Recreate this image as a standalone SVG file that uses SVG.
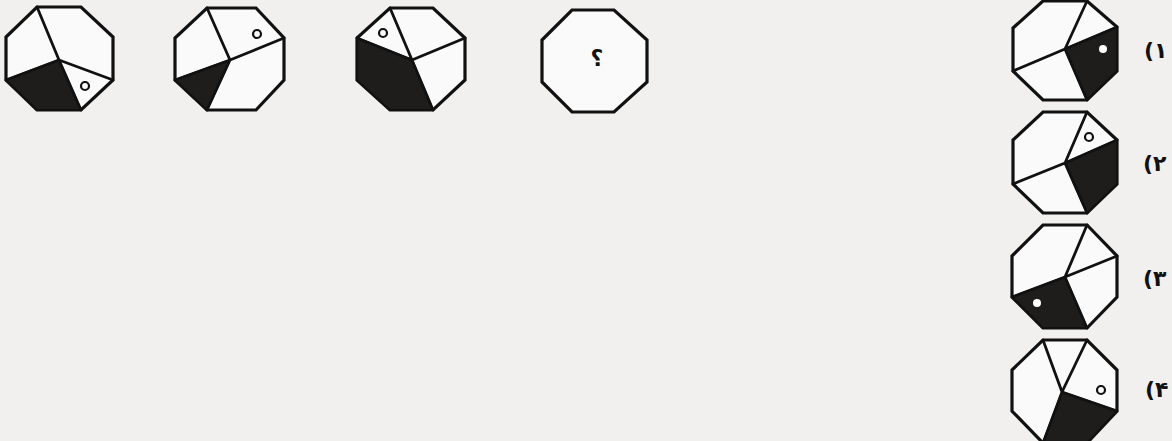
<svg xmlns="http://www.w3.org/2000/svg" width="1172" height="441" viewBox="0 0 1172 441">
<style>
.oct{fill:#fbfafa;stroke:#111;stroke-width:3.2;stroke-linejoin:miter}
.ln{fill:none;stroke:#111;stroke-width:2.8;stroke-linecap:round}
.dk{fill:#1e1d1b;stroke:#111;stroke-width:2;stroke-linejoin:round}
.ho{fill:#fbfafa;stroke:#111;stroke-width:2.2}
.wd{fill:#fff;stroke:none}
.lbl{font-family:"DejaVu Sans",sans-serif;font-size:22px;font-weight:bold;fill:#111;unicode-bidi:bidi-override;direction:ltr}
</style>
<rect width="1172" height="441" fill="#f2f0ef"/>
<g id="fig1">
<polygon class="oct" points="37,7 81,7 113,37 113,80 81,110 37,110 6,80 6,37"/>
<polygon class="dk" points="59,60 6,80 37,110 81,110"/>
<path class="ln" d="M59,60 L37,7 M59,60 L6,80 M59,60 L113,80 M59,60 L81,110"/>
<circle class="ho" cx="85" cy="86" r="4"/>
</g>
<g id="fig2">
<polygon class="oct" points="207,8 256,8 284,38 284,80 256,110 207,110 175,80 175,38"/>
<polygon class="dk" points="230,60 175,80 207,110"/>
<path class="ln" d="M230,60 L207,8 M230,60 L284,38 M230,60 L175,80 M230,60 L207,110"/>
<circle class="ho" cx="257" cy="34" r="4"/>
</g>
<g id="fig3">
<polygon class="oct" points="390,8 433,8 465,38 465,80 433,110 390,110 357,80 357,38"/>
<polygon class="dk" points="412,60 357,38 357,80 390,110 433,110"/>
<path class="ln" d="M412,60 L390,8 M412,60 L357,38 M412,60 L465,38 M412,60 L433,110"/>
<circle class="ho" cx="383" cy="33" r="4"/>
</g>
<g id="fig4">
<polygon class="oct" points="572,10 614,10 647,40 647,82 614,112 572,112 542,82 542,40"/>
<text class="lbl" x="597" y="66" text-anchor="middle" font-size="26">؟</text>
</g>
<g id="opt1">
<polygon class="oct" points="1043,1 1087,1 1117,27 1117,71 1087,100 1043,100 1013,71 1013,28"/>
<polygon class="dk" points="1065,49 1117,27 1117,71 1087,100"/>
<path class="ln" d="M1065,49 L1087,1 M1065,49 L1117,27 M1065,49 L1013,71 M1065,49 L1087,100"/>
<circle class="wd" cx="1103" cy="49" r="4"/>
<text class="lbl" x="1144" y="58">(۱</text>
</g>
<g id="opt2">
<polygon class="oct" points="1043,112 1087,112 1117,140 1117,184 1087,213 1043,213 1013,184 1013,140"/>
<polygon class="dk" points="1065,163 1117,140 1117,184 1087,213"/>
<path class="ln" d="M1065,163 L1087,112 M1065,163 L1117,140 M1065,163 L1013,184 M1065,163 L1087,213"/>
<circle class="ho" cx="1089" cy="137" r="4"/>
<text class="lbl" x="1143" y="171">(۲</text>
</g>
<g id="opt3">
<polygon class="oct" points="1043,225 1087,225 1117,256 1117,297 1087,328 1043,328 1012,297 1012,256"/>
<polygon class="dk" points="1065,277 1012,297 1043,328 1087,328"/>
<path class="ln" d="M1065,277 L1087,225 M1065,277 L1117,256 M1065,277 L1012,297 M1065,277 L1087,328"/>
<circle class="wd" cx="1037" cy="303" r="4"/>
<text class="lbl" x="1143" y="286">(۳</text>
</g>
<g id="opt4">
<polygon class="oct" points="1043,340 1087,340 1117,370 1117,411 1087,443 1043,443 1012,411 1012,370"/>
<polygon class="dk" points="1062,392 1117,411 1087,443 1043,443"/>
<path class="ln" d="M1062,392 L1043,340 M1062,392 L1087,340 M1062,392 L1117,411 M1062,392 L1043,443"/>
<circle class="ho" cx="1101" cy="390" r="4"/>
<text class="lbl" x="1145" y="397">(۴</text>
</g>
</svg>
